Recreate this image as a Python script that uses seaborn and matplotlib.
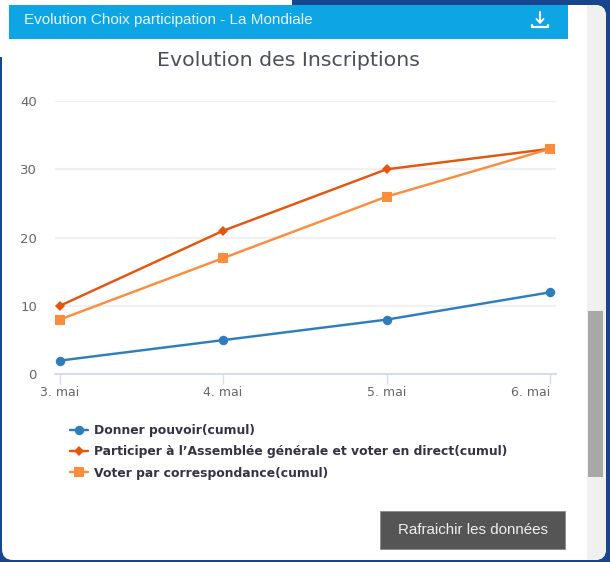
import matplotlib
matplotlib.use("Agg")
import matplotlib.pyplot as plt
from matplotlib.patches import FancyBboxPatch, Rectangle
import pandas as pd
import seaborn as sns

dates = ["3. mai", "4. mai", "5. mai", "6. mai"]
pouvoir = [2, 5, 8, 12]
assemblee = [10, 21, 30, 33]
correspondance = [8, 17, 26, 33]
names = ["Donner pouvoir(cumul)",
         "Participer à l’Assemblée générale et voter en direct(cumul)",
         "Voter par correspondance(cumul)"]
colors = ["#2f7ebc", "#e6550d", "#fd8d3c"]
markers = ["o", "D", "s"]
marker_sizes = [6.8, 5, 7]
yticks = [0, 10, 20, 30, 40]
title = "Evolution des Inscriptions"
header = "Evolution Choix participation - La Mondiale"
button = "Rafraichir les données"

W, H = 610, 562
sns.set_theme(style="white")
plt.rcParams["font.family"] = ["DejaVu Sans"]
fig = plt.figure(figsize=(W / 100, H / 100), dpi=100, facecolor="#17468f")

bg = fig.add_axes([0, 0, 1, 1], zorder=0)
bg.set_xlim(0, W); bg.set_ylim(H, 0); bg.axis("off")
bg.add_patch(Rectangle((0, 0), 292, 57, fc="white", ec="none"))
panel = FancyBboxPatch((2, 5), 604, 555, boxstyle="round,pad=0,rounding_size=11",
                       fc="white", ec="none")
bg.add_patch(panel)
track = Rectangle((587, 5), 19, 555, fc="#f0f0f0", ec="none")
bg.add_patch(track)
track.set_clip_path(panel)
bg.add_patch(Rectangle((588, 311), 15, 166, fc="#a8a8a8", ec="none"))
bg.add_patch(Rectangle((9, 5), 559, 34, fc="#0ea5e4", ec="none"))
bg.text(24, 20, header, color="#e8f5fc", fontsize=10.95, family="Liberation Sans",
        va="center", ha="left")
bg.plot([540, 540], [12, 22], color="white", lw=1.5)
bg.plot([536.5, 540, 543.5], [19, 23, 19], color="white", lw=1.3)
bg.plot([532, 532, 548, 548], [24.5, 26.5, 26.5, 24.5], color="white", lw=1.6)
bg.add_patch(Rectangle((380, 511), 185, 38, fc="#555555", ec="#8a8a8a", lw=0.6))
bg.text(472.5, 530.5, button, color="#f0f0f0", fontsize=10.9, family="Liberation Sans",
        va="center", ha="center")
bg.text(288.5, 60.5, title, color="#4a4f5c", fontsize=14.75, va="center", ha="center")

left, right, top, bottom = 55, 556, 101, 374.3
ax = fig.add_axes([left / W, 1 - bottom / H, (right - left) / W, (bottom - top) / H], zorder=1)
ax.patch.set_alpha(0)

df = pd.DataFrame({
    "date": list(range(len(dates))) * 3,
    "value": pouvoir + assemblee + correspondance,
    "serie": [n for n in names for _ in dates],
})
for name, color, marker, ms in zip(names, colors, markers, marker_sizes):
    sns.lineplot(data=df[df["serie"] == name], x="date", y="value", color=color, lw=1.75,
                 marker=marker, markersize=ms, markeredgewidth=0, label=name,
                 ax=ax, clip_on=False, zorder=3, errorbar=None)

unit = (550 - 59.5) / 3
ax.set_xlim(-(59.5 - left) / unit, 3 + (right - 550) / unit)
ax.set_ylim(0, 40)
ax.set_xticks(range(len(dates)), dates)
ax.set_yticks(yticks)
ax.set_xlabel(""); ax.set_ylabel("")
ax.grid(axis="y", color="#f1f1f1", lw=1.6)
ax.set_axisbelow(True)
for s in ["top", "left", "right"]:
    ax.spines[s].set_visible(False)
ax.spines["bottom"].set_color("#d5dcef")
ax.spines["bottom"].set_linewidth(1.4)
ax.tick_params(axis="x", bottom=True, length=7, width=1, color="#d5dcef",
               labelcolor="#666666", labelsize=9, pad=1.5)
ax.tick_params(axis="y", left=False, labelcolor="#666666", labelsize=9.5, pad=7)
for lab in ax.get_yticklabels():
    lab.set_verticalalignment("center_baseline")
last = ax.get_xticklabels()[-1]
last.set_horizontalalignment("right")
last.set_x(3 + (right - 550) / unit)

leg = ax.legend(loc="upper left", bbox_to_anchor=(70 / W, 1 - 424 / H),
                bbox_transform=fig.transFigure, frameon=False, borderpad=0,
                borderaxespad=0, handlelength=1.45, handletextpad=0.5, labelspacing=0.68,
                prop={"weight": "bold", "size": 8.9})
for t in leg.get_texts():
    t.set_color("#333344")

fig.savefig("out.png", dpi=100, facecolor=fig.get_facecolor())
